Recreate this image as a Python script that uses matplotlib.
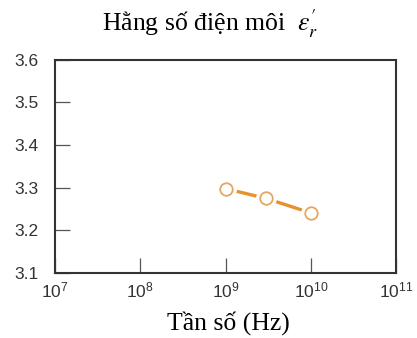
import matplotlib
matplotlib.use("Agg")
import matplotlib.pyplot as plt
from matplotlib.ticker import NullLocator, FixedLocator

plt.rcParams['mathtext.fontset'] = 'stix'

freq_hz = [1e9, 3e9, 1e10]
eps_r = [3.298, 3.275, 3.241]
x_ticks = [1e7, 1e8, 1e9, 1e10, 1e11]
x_ticklabels = [r'$\mathregular{10^{7}}$', r'$\mathregular{10^{8}}$', r'$\mathregular{10^{9}}$',
                r'$\mathregular{10^{10}}$', r'$\mathregular{10^{11}}$']
y_ticks = [3.1, 3.2, 3.3, 3.4, 3.5, 3.6]
y_ticklabels = ['3.1', '3.2', '3.3', '3.4', '3.5', '3.6']
title = "Hằng số điện môi  $\\varepsilon_{r}^{\\prime}$"
xlabel = "Tần số (Hz)"

fig = plt.figure(figsize=(4.17, 3.38), dpi=100)
ax = fig.add_axes([0.132, 0.192, 0.818, 0.631])

orange = '#E8912F'
ax.plot(freq_hz, eps_r, color=orange, lw=2.4, zorder=2)
ax.plot(freq_hz, eps_r, ls='none', marker='o', ms=14, mfc='white', mec='white', zorder=3)
ax.plot(freq_hz, eps_r, ls='none', marker='o', ms=9, mfc='white', mec='#E2A860', mew=1.3, zorder=4)

ax.set_xscale('log')
ax.set_xlim(1e7, 1e11)
ax.set_ylim(3.1, 3.6)
ax.xaxis.set_major_locator(FixedLocator(x_ticks))
ax.xaxis.set_minor_locator(NullLocator())
ax.set_xticks(x_ticks)
ax.set_xticklabels(x_ticklabels)
ax.set_yticks(y_ticks)
ax.set_yticklabels(y_ticklabels)

for lab in ax.get_xticklabels() + ax.get_yticklabels():
    lab.set_fontfamily('Liberation Sans')
    lab.set_fontsize(12.5)
    lab.set_color('#333333')

ax.tick_params(axis='both', direction='in', length=10.5, width=0.9, color='#555555',
               top=False, right=False)
ax.tick_params(axis='y', pad=12)
ax.tick_params(axis='x', pad=5)

for s in ax.spines.values():
    s.set_color('#333333')
    s.set_linewidth(1.5)

fig.text(0.504, 0.93, title, ha='center', va='center', fontsize=18.5, family='Liberation Serif')
fig.text(0.547, 0.045, xlabel, ha='center', va='center', fontsize=18.5, family='Liberation Serif')

fig.savefig('out.png', dpi=100)
